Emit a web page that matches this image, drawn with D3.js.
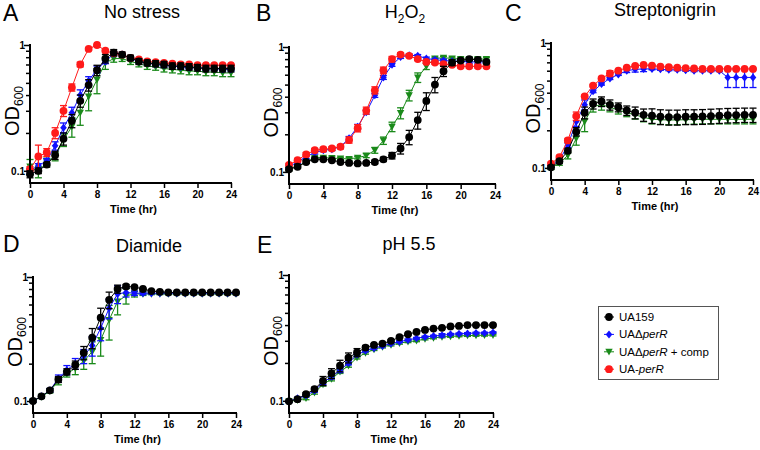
<!DOCTYPE html>
<html><head><meta charset="utf-8">
<script src="https://cdn.jsdelivr.net/npm/d3@7"></script>
<style>body{margin:0;background:#fff}svg{display:block;font-family:"Liberation Sans",Arial,sans-serif}svg text{font-family:"Liberation Sans",Arial,sans-serif}</style>
</head><body><svg id="c" width="760" height="450"></svg>
<script>
// ---------------- DATA ----------------
const hours = [0,1,2,3,4,5,6,7,8,9,10,11,12,13,14,15,16,17,18,19,20,21,22,23,24];
const xTicks = [0,4,8,12,16,20,24];
const yMajorTicks = [0.1,1];
const yMinorTicks = [0.2,0.3,0.4,0.5,0.6,0.7,0.8,0.9];
const strains = ["UA159","UAΔperR","UAΔperR + comp","UA-perR"];

// Panel A: No stress
const A_UA159 = [0.094,0.100,0.112,0.133,0.18,0.25,0.36,0.48,0.63,0.78,0.87,0.84,0.79,0.74,0.72,0.71,0.70,0.68,0.68,0.67,0.66,0.65,0.65,0.65,0.65];
const A_UA159_sd = [0.006,0.005,0.005,0.01,0.02,0.03,0.04,0.05,0.06,0.06,0.05,0.04,0.04,0.04,0.04,0.04,0.04,0.04,0.04,0.04,0.04,0.04,0.04,0.04,0.04];
const A_dPerR = [0.100,0.110,0.120,0.158,0.22,0.29,0.40,0.52,0.64,0.74,0.85,0.84,0.78,0.74,0.72,0.70,0.69,0.68,0.67,0.66,0.66,0.65,0.65,0.64,0.64];
const A_dPerR_sd = [0.004,0.004,0.005,0.012,0.02,0.03,0.04,0.04,0.04,0.03,0.03,0.02,0.02,0.02,0.02,0.02,0.02,0.02,0.02,0.02,0.02,0.02,0.02,0.02,0.02];
const A_comp = [0.108,0.098,0.118,0.130,0.176,0.225,0.29,0.39,0.53,0.72,0.78,0.78,0.74,0.71,0.68,0.67,0.65,0.64,0.63,0.62,0.62,0.61,0.61,0.60,0.60];
const A_comp_sd = [0.015,0.01,0.008,0.01,0.02,0.04,0.06,0.09,0.12,0.08,0.05,0.04,0.04,0.04,0.04,0.04,0.04,0.04,0.04,0.04,0.04,0.04,0.04,0.04,0.04];
const A_perR = [0.103,0.130,0.140,0.20,0.30,0.46,0.70,0.93,1.00,0.90,0.86,0.84,0.79,0.77,0.74,0.73,0.72,0.71,0.70,0.70,0.69,0.69,0.69,0.69,0.69];
const A_perR_sd = [0.005,0.03,0.01,0.02,0.03,0.03,0.03,0.02,0.01,0.01,0.01,0.01,0.01,0.01,0.01,0.01,0.01,0.01,0.01,0.01,0.01,0.01,0.01,0.01,0.01];

// Panel B: H2O2 (0-23 h)
const B_UA159 = [0.105,0.110,0.120,0.126,0.126,0.124,0.120,0.118,0.117,0.118,0.120,0.126,0.135,0.154,0.19,0.26,0.37,0.50,0.64,0.75,0.78,0.80,0.79,0.76];
const B_UA159_sd = [0.003,0.003,0.003,0.003,0.003,0.003,0.003,0.003,0.003,0.003,0.004,0.005,0.008,0.015,0.025,0.04,0.06,0.07,0.06,0.04,0.02,0.02,0.02,0.02];
const B_dPerR = [0.110,0.120,0.132,0.143,0.149,0.152,0.159,0.186,0.23,0.30,0.41,0.57,0.72,0.83,0.86,0.85,0.81,0.79,0.78,0.77,0.77,0.76,0.76,0.76];
const B_dPerR_sd = [0.003,0.003,0.004,0.004,0.004,0.004,0.005,0.006,0.01,0.01,0.015,0.02,0.02,0.02,0.02,0.02,0.02,0.02,0.02,0.02,0.02,0.02,0.02,0.02];
const B_comp = [0.105,0.111,0.120,0.130,0.130,0.129,0.128,0.127,0.130,0.135,0.149,0.178,0.23,0.296,0.41,0.57,0.70,0.81,0.82,0.81,0.80,0.80,0.80,0.80];
const B_comp_sd = [0.003,0.003,0.003,0.003,0.003,0.003,0.003,0.003,0.003,0.005,0.008,0.012,0.02,0.03,0.04,0.05,0.04,0.02,0.02,0.02,0.02,0.02,0.02,0.02];
const B_perR = [0.114,0.124,0.138,0.149,0.152,0.154,0.159,0.180,0.224,0.31,0.45,0.65,0.80,0.87,0.85,0.80,0.76,0.75,0.73,0.72,0.70,0.70,0.70,0.70];
const B_perR_sd = [0.003,0.004,0.005,0.005,0.005,0.005,0.006,0.01,0.015,0.02,0.03,0.04,0.04,0.03,0.02,0.02,0.02,0.02,0.02,0.02,0.02,0.02,0.02,0.02];

// Panel C: Streptonigrin
const C_UA159 = [0.101,0.113,0.137,0.195,0.277,0.326,0.34,0.32,0.306,0.288,0.277,0.266,0.262,0.257,0.255,0.255,0.257,0.257,0.258,0.26,0.262,0.264,0.265,0.266,0.266];
const C_UA159_sd = [0.003,0.004,0.006,0.015,0.03,0.03,0.03,0.03,0.025,0.025,0.03,0.03,0.035,0.035,0.035,0.035,0.035,0.035,0.035,0.035,0.035,0.035,0.035,0.035,0.035];
const C_dPerR = [0.104,0.115,0.152,0.235,0.32,0.41,0.47,0.52,0.56,0.60,0.615,0.62,0.62,0.615,0.61,0.61,0.605,0.60,0.60,0.60,0.60,0.53,0.53,0.53,0.53];
const C_dPerR_sd = [0.003,0.004,0.006,0.02,0.03,0.01,0.01,0.01,0.01,0.02,0.03,0.03,0.01,0.01,0.01,0.01,0.01,0.01,0.01,0.01,0.01,0.09,0.09,0.09,0.09];
const C_comp = [0.100,0.109,0.126,0.172,0.235,0.31,0.32,0.306,0.29,0.277,0.266,0.254,0.245,0.243,0.242,0.242,0.243,0.244,0.245,0.245,0.245,0.245,0.245,0.245,0.245];
const C_comp_sd = [0.003,0.004,0.008,0.02,0.04,0.03,0.03,0.025,0.02,0.02,0.02,0.02,0.02,0.02,0.02,0.02,0.02,0.02,0.02,0.02,0.02,0.02,0.02,0.02,0.02];
const C_perR = [0.108,0.122,0.166,0.26,0.374,0.456,0.52,0.57,0.60,0.635,0.655,0.667,0.66,0.647,0.64,0.635,0.63,0.625,0.62,0.62,0.62,0.62,0.62,0.62,0.62];
const C_perR_sd = [0.003,0.004,0.006,0.02,0.01,0.01,0.01,0.03,0.01,0.01,0.01,0.01,0.01,0.01,0.01,0.01,0.01,0.01,0.01,0.01,0.01,0.01,0.01,0.01,0.01];

// Panel D: Diamide
const D_UA159 = [0.100,0.109,0.122,0.149,0.172,0.195,0.245,0.324,0.47,0.655,0.80,0.84,0.83,0.80,0.77,0.76,0.75,0.75,0.75,0.75,0.75,0.75,0.75,0.75,0.75];
const D_UA159_sd = [0.002,0.003,0.004,0.008,0.01,0.015,0.03,0.06,0.09,0.10,0.06,0.03,0.02,0.01,0.01,0.01,0.01,0.01,0.01,0.01,0.01,0.01,0.01,0.01,0.01];
const D_dPerR = [0.100,0.109,0.122,0.152,0.178,0.20,0.23,0.28,0.386,0.56,0.73,0.75,0.74,0.74,0.74,0.74,0.74,0.74,0.74,0.74,0.74,0.74,0.74,0.74,0.74];
const D_dPerR_sd = [0.002,0.003,0.004,0.01,0.015,0.02,0.03,0.05,0.08,0.10,0.12,0.06,0.03,0.02,0.01,0.01,0.01,0.01,0.01,0.01,0.01,0.01,0.01,0.01,0.01];
const D_comp = [0.100,0.108,0.120,0.145,0.166,0.183,0.21,0.25,0.31,0.45,0.635,0.705,0.73,0.73,0.73,0.73,0.73,0.73,0.73,0.73,0.73,0.73,0.73,0.73,0.73];
const D_comp_sd = [0.002,0.003,0.004,0.01,0.01,0.02,0.03,0.05,0.08,0.14,0.14,0.10,0.04,0.02,0.01,0.01,0.01,0.01,0.01,0.01,0.01,0.01,0.01,0.01,0.01];

// Panel E: pH 5.5
const E_UA159 = [0.099,0.103,0.113,0.124,0.144,0.165,0.19,0.22,0.242,0.265,0.278,0.285,0.30,0.32,0.338,0.353,0.366,0.375,0.38,0.39,0.394,0.40,0.40,0.40,0.40];
const E_UA159_sd = [0.002,0.002,0.003,0.004,0.012,0.015,0.02,0.02,0.018,0.01,0.006,0.006,0.006,0.006,0.006,0.006,0.006,0.006,0.006,0.006,0.006,0.006,0.006,0.006,0.006];
const E_dPerR = [0.099,0.105,0.110,0.120,0.140,0.155,0.175,0.20,0.232,0.25,0.262,0.273,0.285,0.295,0.305,0.314,0.322,0.327,0.332,0.338,0.341,0.343,0.346,0.346,0.349];
const E_dPerR_sd = [0.002,0.002,0.003,0.003,0.005,0.006,0.007,0.007,0.006,0.005,0.005,0.005,0.005,0.005,0.005,0.005,0.005,0.005,0.01,0.005,0.005,0.005,0.005,0.005,0.005];
const E_comp = [0.099,0.101,0.105,0.116,0.135,0.149,0.17,0.19,0.22,0.24,0.256,0.268,0.278,0.287,0.295,0.30,0.31,0.316,0.322,0.325,0.328,0.33,0.331,0.332,0.333];
const E_comp_sd = [0.002,0.002,0.003,0.003,0.004,0.005,0.005,0.005,0.005,0.005,0.005,0.005,0.005,0.005,0.005,0.005,0.005,0.005,0.005,0.005,0.005,0.005,0.005,0.005,0.005];

// ---------------- STYLE / LAYOUT ----------------
const FONT = "'Liberation Sans', Arial, sans-serif";
const colors = {"UA159":"#000000","UAΔperR":"#1010ff","UAΔperR + comp":"#1a8a1a","UA-perR":"#ff1a1a"};
const shapes = {"UA159":"circle","UAΔperR":"diamond","UAΔperR + comp":"tri","UA-perR":"circle"};
const drawOrder = ["UAΔperR + comp","UAΔperR","UA-perR","UA159"];

const panels = [
  {letter:"A", title:[["No stress"]], left:30, right:231, top:45, bottom:183, lx:3, ly:21, tx:142, ty:18,
   series:{"UA159":[A_UA159,A_UA159_sd],"UAΔperR":[A_dPerR,A_dPerR_sd],"UAΔperR + comp":[A_comp,A_comp_sd],"UA-perR":[A_perR,A_perR_sd]}},
  {letter:"B", title:[["H"],["2","sub"],["O"],["2","sub"]], left:289, right:495, top:47, bottom:184, lx:256, ly:21, tx:405, ty:18,
   series:{"UA159":[B_UA159,B_UA159_sd],"UAΔperR":[B_dPerR,B_dPerR_sd],"UAΔperR + comp":[B_comp,B_comp_sd],"UA-perR":[B_perR,B_perR_sd]}},
  {letter:"C", title:[["Streptonigrin"]], left:551, right:753, top:43, bottom:180, lx:505, ly:21, tx:665, ty:16,
   series:{"UA159":[C_UA159,C_UA159_sd],"UAΔperR":[C_dPerR,C_dPerR_sd],"UAΔperR + comp":[C_comp,C_comp_sd],"UA-perR":[C_perR,C_perR_sd]}},
  {letter:"D", title:[["Diamide"]], left:33, right:236, top:277, bottom:413, lx:3, ly:252, tx:149, ty:252,
   series:{"UA159":[D_UA159,D_UA159_sd],"UAΔperR":[D_dPerR,D_dPerR_sd],"UAΔperR + comp":[D_comp,D_comp_sd]}},
  {letter:"E", title:[["pH 5.5"]], left:289, right:493, top:275, bottom:413, lx:257, ly:253, tx:409, ty:250,
   series:{"UA159":[E_UA159,E_UA159_sd],"UAΔperR":[E_dPerR,E_dPerR_sd],"UAΔperR + comp":[E_comp,E_comp_sd]}}
];

const svg = d3.select("#c");

function marker(sel, shape, color){
  if(shape==="circle") sel.append("circle").attr("r",3.9).attr("fill",color);
  else if(shape==="diamond") sel.append("path").attr("d","M0,-4L3.3,0L0,4L-3.3,0Z").attr("fill",color);
  else sel.append("path").attr("d","M-3.7,-3L3.7,-3L0,3.8Z").attr("fill",color);
}

function drawPanel(p){
  const g = svg.append("g");
  const x = d3.scaleLinear().domain([0,24]).range([p.left,p.right]);
  const y = d3.scaleLog().domain([0.08,1]).range([p.bottom,p.top]);

  // series
  drawOrder.forEach(s=>{
    if(!p.series[s]) return;
    const [vals, sds] = p.series[s];
    const col = colors[s];
    const pts = vals.map((v,i)=>({t:hours[i], v, sd:sds[i]}));
    g.append("path").datum(pts)
      .attr("fill","none").attr("stroke",col).attr("stroke-width",1)
      .attr("d", d3.line().x(d=>x(d.t)).y(d=>y(d.v)));
    const eb = g.append("g").attr("stroke",col).attr("stroke-width",1.3);
    pts.forEach(d=>{
      const y1 = y(Math.max(0.081,d.v-d.sd)), y2 = y(Math.min(1,d.v+d.sd)), xx = x(d.t);
      eb.append("line").attr("x1",xx).attr("x2",xx).attr("y1",y1).attr("y2",y2);
      eb.append("line").attr("x1",xx-3.5).attr("x2",xx+3.5).attr("y1",y1).attr("y2",y1);
      eb.append("line").attr("x1",xx-3.5).attr("x2",xx+3.5).attr("y1",y2).attr("y2",y2);
    });
    pts.forEach(d=>{
      const m = g.append("g").attr("transform",`translate(${x(d.t)},${y(d.v)})`);
      marker(m, shapes[s], col);
    });
  });

  // axes
  const yMajor = d3.axisLeft(y).tickValues(yMajorTicks).tickSize(6).tickSizeOuter(0)
      .tickFormat(d=> d===1 ? "1" : "0.1");
  const yMinor = d3.axisLeft(y).tickValues(yMinorTicks).tickSize(4).tickSizeOuter(0).tickFormat("");
  const xAx = d3.axisBottom(x).tickValues(xTicks).tickSize(5).tickSizeOuter(0).tickPadding(3);

  const gm = g.append("g").attr("transform",`translate(${p.left},0)`).call(yMinor);
  gm.select(".domain").remove();
  gm.selectAll(".tick line").attr("stroke-width",1.5).attr("stroke","#000");
  const gy = g.append("g").attr("transform",`translate(${p.left},0)`).call(yMajor);
  gy.select(".domain").attr("stroke-width",2).attr("d",`M0,${p.bottom+1}V${p.top-1}`);
  gy.selectAll(".tick line").attr("stroke-width",1.5);
  gy.selectAll("text").attr("font-size",10).attr("font-weight","bold").attr("font-family",FONT).attr("x",-5);
  const gx = g.append("g").attr("transform",`translate(0,${p.bottom})`).call(xAx);
  gx.select(".domain").attr("stroke-width",2).attr("d",`M${p.left-1},0H${p.right+1}`);
  gx.selectAll(".tick line").attr("stroke-width",1.5);
  gx.selectAll("text").attr("font-size",10).attr("font-weight","bold").attr("font-family",FONT);

  // axis titles
  g.append("text").attr("x",(p.left+p.right)/2+3).attr("y",p.bottom+30).attr("font-family",FONT)
    .attr("text-anchor","middle").attr("font-size",11).attr("font-weight","bold").text("Time (hr)");
  const cy = (p.top+p.bottom)/2 - 3;
  const yl = g.append("text").attr("transform",`translate(${p.left-11},${cy}) rotate(-90)`)
    .attr("text-anchor","middle").attr("font-size",20).attr("font-family",FONT);
  yl.append("tspan").text("OD");
  yl.append("tspan").attr("font-size",12).attr("dy",4).text("600");

  // letter + title
  g.append("text").attr("x",p.lx).attr("y",p.ly).attr("font-size",23).attr("font-family",FONT).text(p.letter);
  const tt = g.append("text").attr("x",p.tx).attr("y",p.ty).attr("text-anchor","middle").attr("font-size",18).attr("font-family",FONT);
  let shifted = false;
  p.title.forEach(([txt,kind])=>{
    const ts = tt.append("tspan").text(txt);
    if(kind==="sub"){ ts.attr("font-size",12).attr("dy",5); shifted=true; }
    else if(shifted){ ts.attr("dy",-5); shifted=false; }
  });
}

panels.forEach(drawPanel);

// legend
const lg = svg.append("g");
lg.append("rect").attr("x",598.5).attr("y",306.5).attr("width",120).attr("height",73)
  .attr("fill","#fff").attr("stroke","#555").attr("stroke-width",1);
const legendLabels = [
  [["UA159",false]],
  [["UAΔ",false],["perR",true]],
  [["UAΔ",false],["perR",true],[" + comp",false]],
  [["UA-",false],["perR",true]]
];
strains.forEach((s,i)=>{
  const yy = 317 + i*17.4;
  const row = lg.append("g").attr("transform",`translate(609,${yy})`);
  row.append("line").attr("x1",-5).attr("x2",5).attr("stroke",colors[s]).attr("stroke-width",1);
  marker(row, shapes[s], colors[s]);
  const t = lg.append("text").attr("x",619).attr("y",yy+4).attr("font-size",11.5).attr("font-family",FONT);
  legendLabels[i].forEach(([txt,it])=>{
    const ts = t.append("tspan").text(txt);
    if(it) ts.attr("font-style","italic");
  });
});
</script></body></html>
